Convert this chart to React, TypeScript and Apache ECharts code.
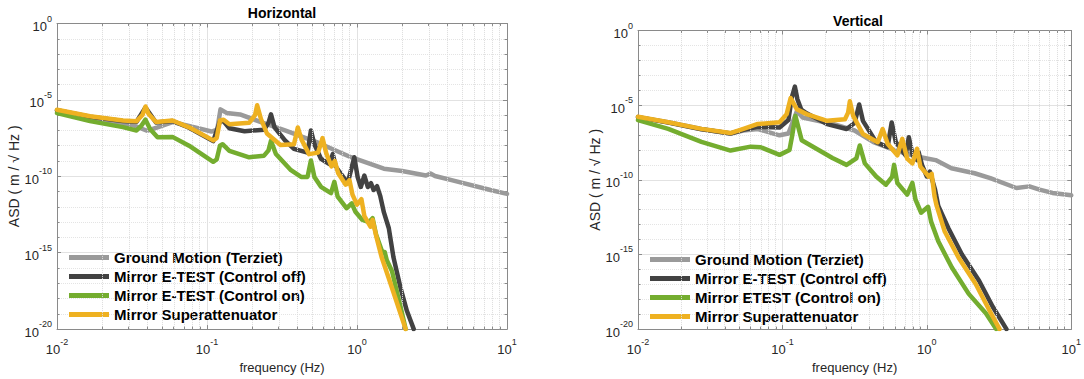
import React, { useEffect, useRef } from "react";
import * as echarts from "echarts";

// ---------- Horizontal panel: [frequency (Hz), ASD (m/√Hz)] ----------
const hGround: [number, number][] = [
  [0.01, 1.95e-6], [0.0204, 4.47e-7], [0.0324, 2.14e-7], [0.0398, 9.55e-8], [0.0468, 1.58e-7],
  [0.0589, 3.55e-7], [0.0794, 1.78e-7], [0.107, 8.51e-8], [0.117, 1.12e-7], [0.123, 2.4e-6],
  [0.135, 1.41e-6], [0.166, 1.12e-6], [0.229, 3.55e-7], [0.331, 1.0e-7], [0.55, 1.58e-8],
  [0.912, 1.78e-9], [1.51, 3.16e-10], [2.0, 2.24e-10], [2.88, 1.12e-10], [3.09, 1.51e-10],
  [3.31, 1.05e-10], [4.27, 5.62e-11], [7.76, 1.26e-11], [10, 7.08e-12],
];
const hOff: [number, number][] = [
  [0.01, 2.09e-6], [0.0166, 7.94e-7], [0.0275, 4.17e-7], [0.0339, 3.72e-7], [0.0389, 3.16e-6],
  [0.0457, 3.31e-7], [0.0589, 4.17e-7], [0.0759, 1.51e-7], [0.11, 2.0e-8], [0.122, 3.98e-7],
  [0.129, 3.98e-7], [0.141, 1.41e-7], [0.178, 8.91e-8], [0.24, 1.12e-7], [0.257, 3.16e-7],
  [0.267, 1.12e-6], [0.282, 1.58e-7], [0.331, 2.24e-8], [0.38, 6.31e-9], [0.468, 3.55e-9],
  [0.493, 1.0e-7], [0.52, 1.26e-8], [0.575, 1.41e-9], [0.655, 6.31e-10], [0.689, 2.82e-9],
  [0.724, 3.98e-10], [0.867, 3.55e-11], [0.959, 1.78e-9], [1.01, 8.91e-11], [1.06, 2.0e-11],
  [1.12, 1.12e-10], [1.18, 2.0e-11], [1.24, 3.55e-11], [1.29, 1.26e-11], [1.36, 2.24e-11],
  [1.43, 5.01e-12], [1.51, 4.47e-13], [1.63, 3.98e-14], [1.75, 5.01e-16], [1.95, 5.01e-18],
  [2.15, 1.58e-19], [2.39, 1.0e-20],
];
const hOn: [number, number][] = [
  [0.01, 1.38e-6], [0.0166, 4.07e-7], [0.0275, 1.66e-7], [0.0339, 1.0e-7], [0.0363, 1.91e-7],
  [0.0389, 5.13e-7], [0.0417, 1.26e-7], [0.0468, 3.55e-8], [0.0589, 3.8e-8], [0.0759, 1.0e-8],
  [0.11, 8.91e-10], [0.116, 1.26e-9], [0.122, 1.0e-8], [0.127, 1.26e-8], [0.141, 4.68e-9],
  [0.191, 1.74e-9], [0.24, 2.24e-9], [0.257, 5.01e-9], [0.267, 2.09e-8], [0.288, 2.88e-9],
  [0.363, 2.51e-10], [0.424, 9.12e-11], [0.468, 9.12e-11], [0.493, 1.07e-9], [0.52, 9.12e-11],
  [0.575, 2.04e-11], [0.671, 7.94e-12], [0.706, 4.37e-11], [0.743, 4.68e-12], [0.851, 8.13e-13],
  [0.923, 1.7e-12], [0.973, 5.01e-13], [1.08, 1.45e-13], [1.2, 1.0e-13], [1.27, 1.82e-13],
  [1.34, 1.58e-14], [1.48, 1.0e-15], [1.53, 1.12e-15], [1.58, 3.16e-16], [1.71, 6.31e-17],
  [2.0, 1.0e-19], [2.11, 1.0e-20],
];
const hSuper: [number, number][] = [
  [0.01, 2.29e-6], [0.0166, 8.51e-7], [0.0275, 4.47e-7], [0.0339, 3.98e-7], [0.0372, 1.07e-6],
  [0.0389, 3.72e-6], [0.0407, 1.26e-6], [0.0457, 3.55e-7], [0.0589, 4.47e-7], [0.0759, 1.6e-7],
  [0.11, 2.24e-8], [0.116, 3.16e-8], [0.122, 4.47e-7], [0.129, 5.01e-7], [0.141, 2.51e-7],
  [0.191, 3.16e-7], [0.209, 1.0e-6], [0.216, 4.47e-6], [0.229, 5.62e-7], [0.251, 6.31e-8],
  [0.309, 1.12e-8], [0.38, 1.26e-8], [0.403, 1.58e-7], [0.427, 2.51e-8], [0.479, 2.82e-9],
  [0.55, 3.55e-9], [0.589, 3.16e-8], [0.624, 3.16e-9], [0.676, 4.47e-10], [0.711, 1.0e-9],
  [0.75, 1.58e-10], [0.841, 2.82e-11], [0.891, 5.62e-11], [0.933, 6.31e-12], [1.0, 1.41e-12],
  [1.07, 3.16e-12], [1.12, 2.51e-13], [1.23, 5.01e-14], [1.27, 1.41e-13], [1.35, 1.0e-14],
  [1.46, 5.01e-16], [1.62, 2.51e-17], [1.82, 7.94e-19], [2.11, 1.0e-20],
];

// ---------- Vertical panel ----------
const vGround: [number, number][] = [
  [0.01, 1.58e-6], [0.0162, 7.08e-7], [0.0275, 2.51e-7], [0.0437, 1.26e-7], [0.0537, 2.0e-7],
  [0.0676, 2.51e-7], [0.0955, 9.55e-8], [0.11, 1.26e-7], [0.126, 4.07e-6], [0.138, 1.48e-6],
  [0.224, 5.5e-7], [0.316, 2.0e-7], [0.427, 3.31e-8], [0.631, 7.94e-9], [0.871, 3.47e-9],
  [1.0, 2.69e-9], [1.15, 2.09e-9], [1.48, 5.89e-10], [2.14, 2.75e-10], [2.75, 1.29e-10],
  [4.17, 2.82e-11], [5.13, 3.63e-11], [6.03, 2.19e-11], [7.41, 1.32e-11], [10, 9.12e-12],
];
const vOff: [number, number][] = [
  [0.01, 1.58e-6], [0.0162, 6.76e-7], [0.0275, 2.4e-7], [0.0437, 1.26e-7], [0.0537, 2.24e-7],
  [0.0676, 3.55e-7], [0.0955, 3.16e-7], [0.11, 1.0e-6], [0.116, 3.16e-5], [0.122, 1.74e-4],
  [0.127, 2.51e-5], [0.135, 5.01e-6], [0.147, 2.82e-6], [0.204, 5.37e-7], [0.278, 2.51e-7],
  [0.316, 6.31e-7], [0.34, 1.1e-5], [0.361, 8.91e-7], [0.446, 3.31e-8], [0.535, 1.58e-8],
  [0.571, 6.92e-7], [0.61, 3.31e-8], [0.713, 4.37e-9], [0.75, 7.08e-8], [0.798, 4.37e-9],
  [0.855, 2.09e-9], [0.877, 7.24e-9], [0.925, 1.0e-9], [1.0, 1.66e-10], [1.05, 3.55e-10],
  [1.14, 2.19e-11], [1.2, 1.78e-12], [1.41, 5.75e-14], [1.75, 1.0e-15], [2.3, 1.74e-17],
  [2.86, 3.16e-19], [3.56, 1.0e-20],
];
const vOn: [number, number][] = [
  [0.01, 1.0e-6], [0.0162, 2.57e-7], [0.0275, 3.47e-8], [0.0437, 9.12e-9], [0.0603, 1.66e-8],
  [0.0708, 1.51e-8], [0.0955, 4.68e-9], [0.112, 1.0e-8], [0.117, 1.0e-7], [0.123, 1.91e-6],
  [0.136, 4.47e-8], [0.222, 2.88e-9], [0.278, 1.0e-9], [0.325, 2.69e-9], [0.343, 2.0e-8],
  [0.372, 1.26e-9], [0.446, 1.66e-10], [0.521, 4.68e-11], [0.575, 1.58e-10], [0.593, 1.0e-9],
  [0.625, 6.03e-11], [0.731, 1.02e-11], [0.794, 6.31e-11], [0.834, 4.79e-12], [0.912, 6.31e-13],
  [1.02, 1.55e-12], [1.07, 1.58e-13], [1.2, 7.59e-15], [1.49, 1.32e-16], [1.95, 2.29e-18],
  [2.57, 1.1e-19], [3.02, 1.0e-20],
];
const vSuper: [number, number][] = [
  [0.01, 1.66e-6], [0.0162, 7.08e-7], [0.0275, 2.57e-7], [0.0437, 1.35e-7], [0.0537, 2.57e-7],
  [0.0676, 5.5e-7], [0.0955, 7.08e-7], [0.107, 2.51e-6], [0.114, 3.02e-5], [0.126, 5.25e-6],
  [0.147, 2.51e-6], [0.204, 8.91e-7], [0.271, 1.15e-6], [0.285, 3.16e-6], [0.293, 1.82e-5],
  [0.309, 1.91e-6], [0.361, 1.17e-7], [0.457, 3.31e-8], [0.494, 2.51e-7], [0.535, 2.57e-8],
  [0.625, 4.37e-9], [0.676, 5.5e-8], [0.731, 2.63e-9], [0.794, 1.26e-9], [0.855, 1.2e-8],
  [0.902, 7.59e-10], [1.03, 1.66e-10], [1.08, 2.51e-10], [1.13, 7.94e-12], [1.17, 1.78e-12],
  [1.33, 3.47e-14], [1.66, 6.03e-16], [2.18, 1.05e-17], [2.71, 1.82e-19], [3.19, 1.0e-20],
];

const hNames = [
  "Ground Motion (Terziet)",
  "Mirror E-TEST (Control off)",
  "Mirror E-TEST (Control on)",
  "Mirror Superattenuator",
];
const vNames = [
  "Ground Motion (Terziet)",
  "Mirror E-TEST (Control off)",
  "Mirror ETEST (Control on)",
  "Mirror Superattenuator",
];
const panelTitles = ["Horizontal", "Vertical"];
const minorFreqs = [
  0.02, 0.03, 0.04, 0.05, 0.06, 0.07, 0.08, 0.09,
  0.2, 0.3, 0.4, 0.5, 0.6, 0.7, 0.8, 0.9,
  2, 3, 4, 5, 6, 7, 8, 9,
];

const COLORS = ["#9a9a9a", "#424242", "#74ad2f", "#eeb121"];
const FONT = "'Liberation Sans', Arial, Helvetica, sans-serif";
const TXT = "#262626";
const FRAME = "#8a8a8a";

const toLog = (pts: [number, number][]) => pts.map(([f, a]) => [Math.log10(f), Math.log10(a)]);

const powLabel = (v: number) => `{b|10}{s|${Math.round(v)}}`;
const richPow = {
  b: { fontSize: 13, color: TXT, fontFamily: FONT, lineHeight: 19, verticalAlign: "bottom" },
  s: { fontSize: 9, color: TXT, fontFamily: FONT, lineHeight: 10, verticalAlign: "top" },
};

function buildOption() {
  const grids = [
    { left: 57, top: 23.5, width: 450, height: 311.5 },
    { left: 638, top: 30.5, width: 440, height: 305 },
  ];
  const xAxes: any[] = [];
  const yAxes: any[] = [];
  const frameLine = { show: true, onZero: false, lineStyle: { color: FRAME, width: 1 } };
  grids.forEach((_, g) => {
    xAxes.push({
      type: "value", gridIndex: g, min: -2, max: 1, interval: 1, position: "bottom",
      name: "frequency (Hz)", nameLocation: "middle", nameGap: 27,
      nameTextStyle: { fontSize: 13, color: TXT, fontFamily: FONT },
      axisLine: frameLine,
      axisTick: { show: true, inside: true, length: 4, lineStyle: { color: FRAME } },
      axisLabel: { formatter: powLabel, rich: richPow, margin: 8 },
      splitLine: { show: true, lineStyle: { color: "#e2e2e2", width: 1 } },
    });
    xAxes.push({
      type: "value", gridIndex: g, min: -2, max: 1, interval: 1, position: "top",
      axisLine: frameLine,
      axisTick: { show: true, inside: true, length: 4, lineStyle: { color: FRAME } },
      axisLabel: { show: false },
      splitLine: { show: false },
    });
    yAxes.push({
      type: "value", gridIndex: g, min: -20, max: 0, interval: 5, position: "left",
      name: "ASD ( m / √ Hz )", nameLocation: "middle", nameGap: g === 0 ? 32 : 31,
      nameTextStyle: { fontSize: 14, color: TXT, fontFamily: FONT },
      axisLine: frameLine,
      axisTick: { show: true, inside: true, length: 4, lineStyle: { color: FRAME } },
      minorTick: { show: true, splitNumber: 5, length: 2.5, lineStyle: { color: FRAME } },
      axisLabel: { formatter: powLabel, rich: richPow, margin: 5 },
      splitLine: { show: true, lineStyle: { color: "#e2e2e2", width: 1 } },
      minorSplitLine: { show: true, lineStyle: { color: "#e4e4e4", type: "dotted", width: 1 } },
    });
    yAxes.push({
      type: "value", gridIndex: g, min: -20, max: 0, interval: 5, position: "right",
      axisLine: frameLine,
      axisTick: { show: true, inside: true, length: 4, lineStyle: { color: FRAME } },
      minorTick: { show: true, splitNumber: 5, length: 2.5, lineStyle: { color: FRAME } },
      axisLabel: { show: false },
      splitLine: { show: false },
    });
  });

  const panels = [
    { names: hNames, data: [hGround, hOff, hOn, hSuper] },
    { names: vNames, data: [vGround, vOff, vOn, vSuper] },
  ];
  const series: any[] = [];
  panels.forEach((p, g) => {
    // minor tick length expressed in axis units (≈2.5px)
    const tickLen = 2.5 / (grids[g].height / 20);
    const minorTicks: any[] = [];
    minorFreqs.forEach((f) => {
      const x = Math.log10(f);
      minorTicks.push([{ coord: [x, -20] }, { coord: [x, -20 + tickLen] }]);
      minorTicks.push([{ coord: [x, 0] }, { coord: [x, -tickLen] }]);
    });
    series.push({
      type: "line", name: "_minor" + g, xAxisIndex: g * 2, yAxisIndex: g * 2, data: [], z: 1,
      silent: true,
      markLine: {
        silent: true, symbol: ["none", "none"], label: { show: false }, animation: false,
        lineStyle: { type: "dotted", color: "#dcdcdc", width: 1 },
        data: minorFreqs.map((f) => ({ xAxis: Math.log10(f) })),
      },
    });
    series.push({
      type: "line", name: "_mtick" + g, xAxisIndex: g * 2, yAxisIndex: g * 2, data: [], z: 2,
      silent: true,
      markLine: {
        silent: true, symbol: ["none", "none"], label: { show: false }, animation: false,
        lineStyle: { type: "solid", color: FRAME, width: 1 },
        data: minorTicks,
      },
    });
    p.data.forEach((pts, i) => {
      series.push({
        type: "line", name: p.names[i], xAxisIndex: g * 2, yAxisIndex: g * 2,
        data: toLog(pts), showSymbol: false, symbol: "none", z: 3 + i,
        lineStyle: { color: COLORS[i], width: 4.5, cap: "round", join: "round" },
        itemStyle: { color: COLORS[i] },
        emphasis: { disabled: true },
      });
    });
  });

  const legendBase = {
    orient: "vertical", itemWidth: 40, itemHeight: 5, itemGap: 4, icon: "rect",
    padding: 0, selectedMode: false,
    itemStyle: { borderWidth: 0 },
    textStyle: { fontSize: 15, fontWeight: "bold", color: "#000", fontFamily: FONT },
  };

  return {
    animation: false,
    backgroundColor: "#ffffff",
    textStyle: { fontFamily: FONT },
    grid: grids,
    xAxis: xAxes,
    yAxis: yAxes,
    series,
    legend: [
      { ...legendBase, left: 69, top: 250, data: hNames },
      { ...legendBase, left: 650, top: 252, data: vNames },
    ],
    graphic: [
      {
        type: "text", x: 282, y: 13,
        style: { text: panelTitles[0], fontSize: 14, fontWeight: "bold", fontFamily: FONT, fill: "#000", align: "center", verticalAlign: "middle" },
      },
      {
        type: "text", x: 858, y: 21,
        style: { text: panelTitles[1], fontSize: 14, fontWeight: "bold", fontFamily: FONT, fill: "#000", align: "center", verticalAlign: "middle" },
      },
    ],
  };
}

export default function App() {
  const ref = useRef<HTMLDivElement>(null);
  useEffect(() => {
    if (!ref.current) return;
    const chart = echarts.init(ref.current, null, { renderer: "svg" });
    chart.setOption(buildOption() as any);
    return () => chart.dispose();
  }, []);
  return (
    <div
      ref={ref}
      style={{ position: "fixed", left: 0, top: 0, width: 1084, height: 379, background: "#fff" }}
    />
  );
}
